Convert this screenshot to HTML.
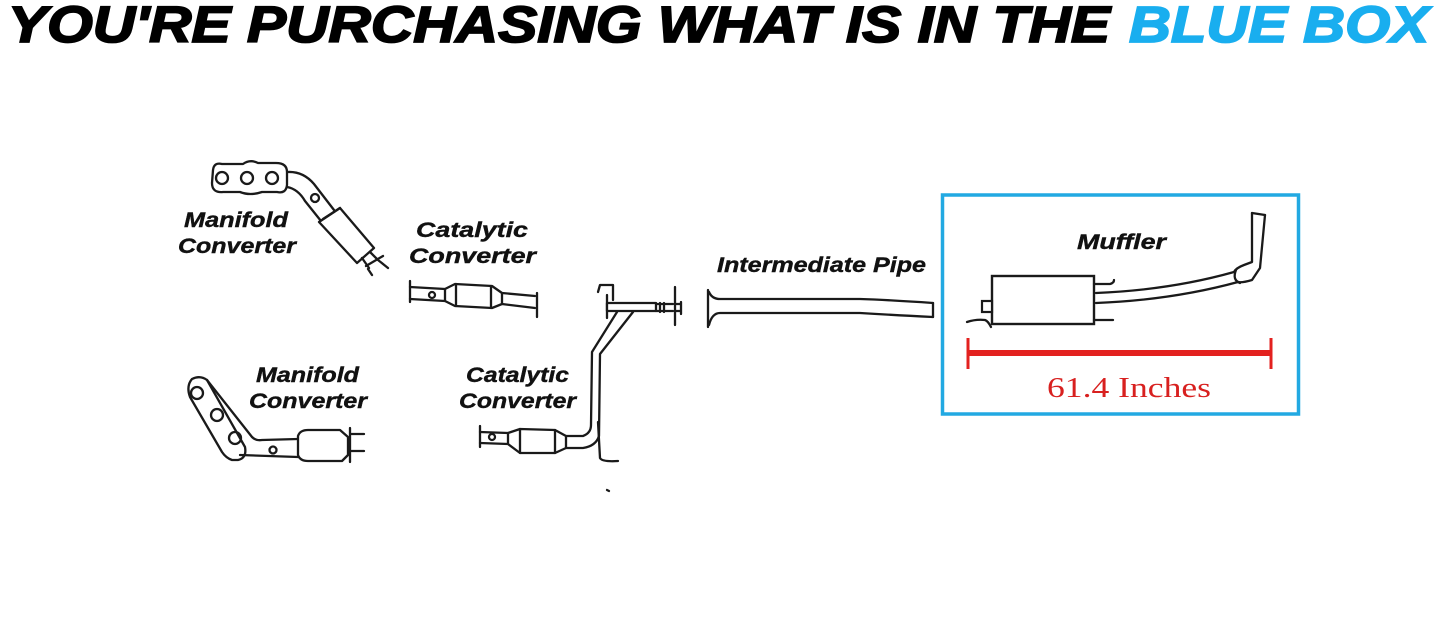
<!DOCTYPE html>
<html><head><meta charset="utf-8"><style>
html,body{margin:0;padding:0;background:#fff;}
svg{display:block;}
.lbl{font-family:"Liberation Sans",Arial,sans-serif;font-weight:bold;font-style:italic;font-size:21px;fill:#111;stroke:#111;stroke-width:0.4;}
.ln{fill:none;stroke:#1a1a1a;stroke-width:2.3;stroke-linecap:round;stroke-linejoin:round;}
.lf{fill:#fff;stroke:#1a1a1a;stroke-width:2.3;stroke-linejoin:round;}
</style></head><body>
<svg width="1445" height="619" viewBox="0 0 1445 619" xmlns="http://www.w3.org/2000/svg">
<rect width="1445" height="619" fill="#fff"/>
<!-- Title -->
<text x="8" y="42" textLength="1102" lengthAdjust="spacingAndGlyphs" font-family="Liberation Sans, Arial, sans-serif" font-weight="bold" font-style="italic" font-size="51" fill="#000" stroke="#000" stroke-width="1.8">YOU'RE PURCHASING WHAT IS IN THE</text>
<text x="1129" y="42" textLength="300" lengthAdjust="spacingAndGlyphs" font-family="Liberation Sans, Arial, sans-serif" font-weight="bold" font-style="italic" font-size="51" fill="#19aeef" stroke="#19aeef" stroke-width="1.8">BLUE BOX</text>

<!-- Labels -->
<text class="lbl" x="184" y="227" textLength="104" lengthAdjust="spacingAndGlyphs">Manifold</text>
<text class="lbl" x="178" y="253" textLength="118" lengthAdjust="spacingAndGlyphs">Converter</text>
<text class="lbl" x="416" y="237" textLength="112" lengthAdjust="spacingAndGlyphs">Catalytic</text>
<text class="lbl" x="409" y="263" textLength="127" lengthAdjust="spacingAndGlyphs">Converter</text>
<text class="lbl" x="256" y="382" textLength="103" lengthAdjust="spacingAndGlyphs">Manifold</text>
<text class="lbl" x="249" y="408" textLength="118" lengthAdjust="spacingAndGlyphs">Converter</text>
<text class="lbl" x="466" y="382" textLength="103" lengthAdjust="spacingAndGlyphs">Catalytic</text>
<text class="lbl" x="459" y="408" textLength="117" lengthAdjust="spacingAndGlyphs">Converter</text>
<text class="lbl" x="717" y="272" textLength="209" lengthAdjust="spacingAndGlyphs">Intermediate Pipe</text>
<text class="lbl" x="1077" y="249" textLength="89" lengthAdjust="spacingAndGlyphs">Muffler</text>

<!-- Manifold 1 (top) -->
<path class="ln" d="M287,172 Q303,171 314,184 L334,210"/>
<path class="ln" d="M287,187 Q298,189 305,201 L321,221"/>
<circle class="ln" cx="315" cy="198" r="4"/>
<path class="lf" d="M213,170 Q214,162 222,164 L243,164 Q250,159 258,163 L276,163 Q287,163 287,172 L287,185 Q286,194 277,192 L262,192 Q250,196 240,192 L223,192 Q212,193 212,183 Z"/>
<circle class="ln" cx="222" cy="178" r="6"/>
<circle class="ln" cx="247" cy="178" r="6"/>
<circle class="ln" cx="272" cy="178" r="6"/>
<path class="lf" d="M319,222 L340,208 L374,248 L357,263 Z"/>
<path class="ln" d="M323,219 L340,208"/>
<path class="ln" d="M362,258 L369,268 M370,252 L378,260 M366,266 L383,256 M368,269 L372,275 M378,260 L388,268"/>

<!-- Upper catalytic converter -->
<path class="ln" d="M410,281 L410,302"/>
<path class="ln" d="M410,287 L445,289 L455,284 L492,286 L502,293 L535,296"/>
<path class="ln" d="M410,299 L445,301 L455,306 L492,308 L502,304 L535,308"/>
<path class="ln" d="M456,284 L456,306 M491,286 L491,308 M445,289 L445,301 M502,293 L502,304"/>
<circle class="ln" cx="432" cy="295" r="3"/>
<path class="ln" d="M537,293 L537,317"/>

<!-- Manifold 2 (bottom) -->
<path class="lf" d="M192,379 Q200,375 207,380 L245,447 Q247,458 238,460 L232,460 Q226,458 222,452 L190,397 Q186,386 192,379 Z"/>
<circle class="ln" cx="197" cy="393" r="6"/>
<circle class="ln" cx="217" cy="415" r="6"/>
<circle class="ln" cx="235" cy="438" r="6"/>
<path class="ln" d="M207,380 L252,437 Q256,441 262,440 L298,439"/>
<path class="ln" d="M240,455 L298,457"/>
<circle class="ln" cx="273" cy="450" r="3.5"/>
<path class="lf" d="M298,436 Q300,430 308,430 L340,430 L348,437 L348,455 L342,461 L308,461 Q300,461 298,455 Z"/>
<path class="ln" d="M350,428 L350,462 M350,434 L364,434 M350,451 L364,451"/>

<!-- Lower catalytic converter + Y pipe -->
<path class="ln" d="M480,426 L480,447"/>
<path class="ln" d="M480,432 L508,433 L520,429 L555,430 L566,436 L583,436 Q591,433 591,425 L592,352 L617,312"/>
<path class="ln" d="M480,443 L508,444 L520,453 L555,453 L566,448 L583,448 Q596,446 599,436 L600,354 L633,312"/>
<path class="ln" d="M520,429 L520,453 M555,430 L555,453 M508,433 L508,444 M566,436 L566,448"/>
<circle class="ln" cx="492" cy="437" r="3"/>
<path class="ln" d="M598,422 L600,458 Q602,462 618,461"/>
<!-- top horizontal -->
<path class="ln" d="M598,292 L600,285 L613,285 L613,300"/>
<path class="ln" d="M607,295 L607,318"/>
<path class="lf" d="M607,303 L656,303 L656,311 L607,311 Z"/>
<path class="ln" d="M656,304 L673,304 M656,311 L673,311 M660,303 L660,312 M664,303 L664,312"/>
<path class="ln" d="M675,287 L675,325 M675,304 L681,304 M675,311 L681,311 M681,302 L681,314"/>
<path class="ln" d="M607,490 L609,491" stroke-width="1.2"/>

<!-- Intermediate pipe -->
<path class="ln" d="M708,290 L708,327"/>
<path class="ln" d="M709,292 Q712,299 720,299 L860,299 Q890,300 933,303"/>
<path class="ln" d="M709,325 Q712,313 720,313 L860,313 Q892,315 933,317"/>
<path class="ln" d="M933,303 L933,317"/>

<!-- Blue box -->
<rect x="942.5" y="195" width="356" height="219" fill="none" stroke="#22a9e2" stroke-width="3.5"/>

<!-- Muffler -->
<rect x="992" y="276" width="102" height="48" fill="#fff" stroke="#1a1a1a" stroke-width="2.4"/>
<rect x="982" y="301" width="10" height="11" fill="#fff" stroke="#1a1a1a" stroke-width="2.2"/>
<path class="ln" d="M967,322 Q976,319 985,320 Q988,321 991,327"/>
<path class="ln" d="M1094,284 L1110,284 Q1114,283 1114,280"/>
<path class="ln" d="M1094,320 L1113,320"/>
<path class="ln" d="M1096,293 Q1170,290 1234,272"/>
<path class="ln" d="M1096,303 Q1172,300 1238,282"/>
<path class="ln" d="M1234,272 Q1236,268 1244,265 L1252,262 L1252,213"/>
<path class="ln" d="M1238,282 Q1242,283 1252,280 L1260,268 L1265,215"/>
<path class="ln" d="M1252,213 L1265,215"/>
<path class="ln" d="M1236,270 Q1232,280 1240,283"/>

<!-- Dimension -->
<rect x="968" y="350" width="303" height="6" fill="#e3211f"/>
<rect x="966.5" y="338" width="3" height="31" fill="#e3211f"/>
<rect x="1269.5" y="338" width="3" height="31" fill="#e3211f"/>
<text x="1047" y="397" textLength="164" lengthAdjust="spacingAndGlyphs" font-family="Liberation Serif, Times New Roman, serif" font-size="29" fill="#d8201f">61.4 Inches</text>
</svg>
</body></html>
